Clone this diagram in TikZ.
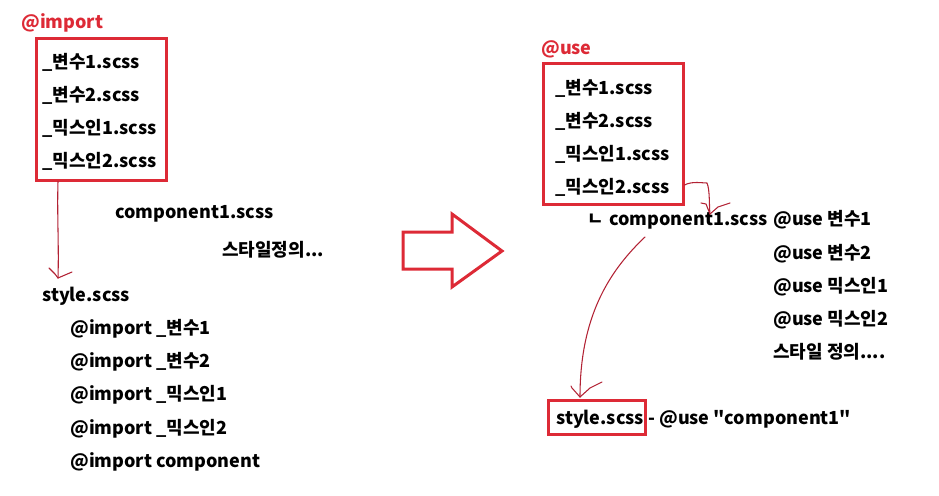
\documentclass[tikz,border=0pt]{standalone}
\usepackage{fontspec}
\newfontfamily\krfont{Noto Sans CJK KR}
\usetikzlibrary{fit}
\definecolor{boxred}{HTML}{DD2A36}
\definecolor{penred}{HTML}{B22234}
\begin{document}
\begin{tikzpicture}[x=0.75pt,y=-0.75pt,
  txt/.style={anchor=base west,inner sep=0pt,font=\krfont\fontsize{13.5}{16}\selectfont\bfseries},
  redtxt/.style={txt,text=boxred},
  redbox/.style={draw=boxred,line width=2.25pt,inner sep=0pt},
  pen/.style={draw=penred,line width=0.8pt,line cap=round,line join=round}]
\useasboundingbox (0,0) rectangle (939,496);
% ---------- left: @import ----------
\node[redtxt] (impT) at (21,28) {@import};
\node[redbox,fit={(36,38) (166,180)}] (boxL) {};
\node[txt] (l1) at (42,68) {\_변수1.scss};
\node[txt] (l2) at (42,101) {\_변수2.scss};
\node[txt] (l3) at (42,134) {\_믹스인1.scss};
\node[txt] (l4) at (42,167) {\_믹스인2.scss};
\node[txt] (compL) at (115,218) {component1.scss};
\node[txt] (defL) at (222,256) {스타일정의...};
\node[txt] (styleL) at (42,301) {style.scss};
\node[txt] (i1) at (70,334) {@import \_변수1};
\node[txt] (i2) at (70,367) {@import \_변수2};
\node[txt] (i3) at (70,400) {@import \_믹스인1};
\node[txt] (i4) at (70,434) {@import \_믹스인2};
\node[txt] (i5) at (70,467) {@import component};
% left hand-drawn arrow
\coordinate (tipL) at (58,278);
\draw[pen] (boxL.south -| tipL) .. controls (57,215) and (59,245) .. (tipL);
\draw[pen] (tipL) -- ++(-3,-4) -- ++(-6,-6);
\draw[pen] (tipL) -- ++(7,-3) -- ++(7,-3);
% ---------- block arrow ----------
\draw[draw=boxred,line width=2.25pt,line join=miter]
  (403,232) -- (452,232) -- (452,214) -- (502,251) -- (452,287) -- (452,269) -- (403,269) -- cycle;
% ---------- right: @use ----------
\node[redtxt] (useT) at (541,54) {@use};
\node[redbox,fit={(543,63) (683,204)}] (boxR) {};
\node[txt] (r1) at (555,94) {\_변수1.scss};
\node[txt] (r2) at (555,127) {\_변수2.scss};
\node[txt] (r3) at (555,160) {\_믹스인1.scss};
\node[txt] (r4) at (555,193) {\_믹스인2.scss};
\node[txt] (hook) at (587,225) {ㄴ};
\node[txt] (compR) at (609,225) {component1.scss};
\node[txt] (u1) at (773,225) {@use 변수1};
\node[txt] (u2) at (773,259) {@use 변수2};
\node[txt] (u3) at (773,292) {@use 믹스인1};
\node[txt] (u4) at (773,325) {@use 믹스인2};
\node[txt] (u5) at (773,358) {스타일 정의....};
\node[redbox,fit={(548,400) (645,434)}] (styleBox) {};
\node[txt] (styleR) at (556,424) {style.scss};
\node[txt] (useC) at (648,424) {- @use "component1"};
% right hand-drawn arrows
\coordinate (tip1) at (710,214);
\draw[pen] (boxR.east |- 0,185) .. controls (692,181) and (702,183) .. (707,183)
  .. controls (710,190) and (709,205) .. (tip1);
\draw[pen] (tip1) -- (706,204) -- (701,203);
\draw[pen] (tip1) -- (718,207) -- (730,203);
\coordinate (tip2) at (580,397);
\draw[pen] (645,237) .. controls (608,272) and (580,318) .. (tip2);
\draw[pen] (tip2) -- (572,388) -- (571,386);
\draw[pen] (tip2) -- (590,388) -- (602,382);
\end{tikzpicture}
\end{document}
